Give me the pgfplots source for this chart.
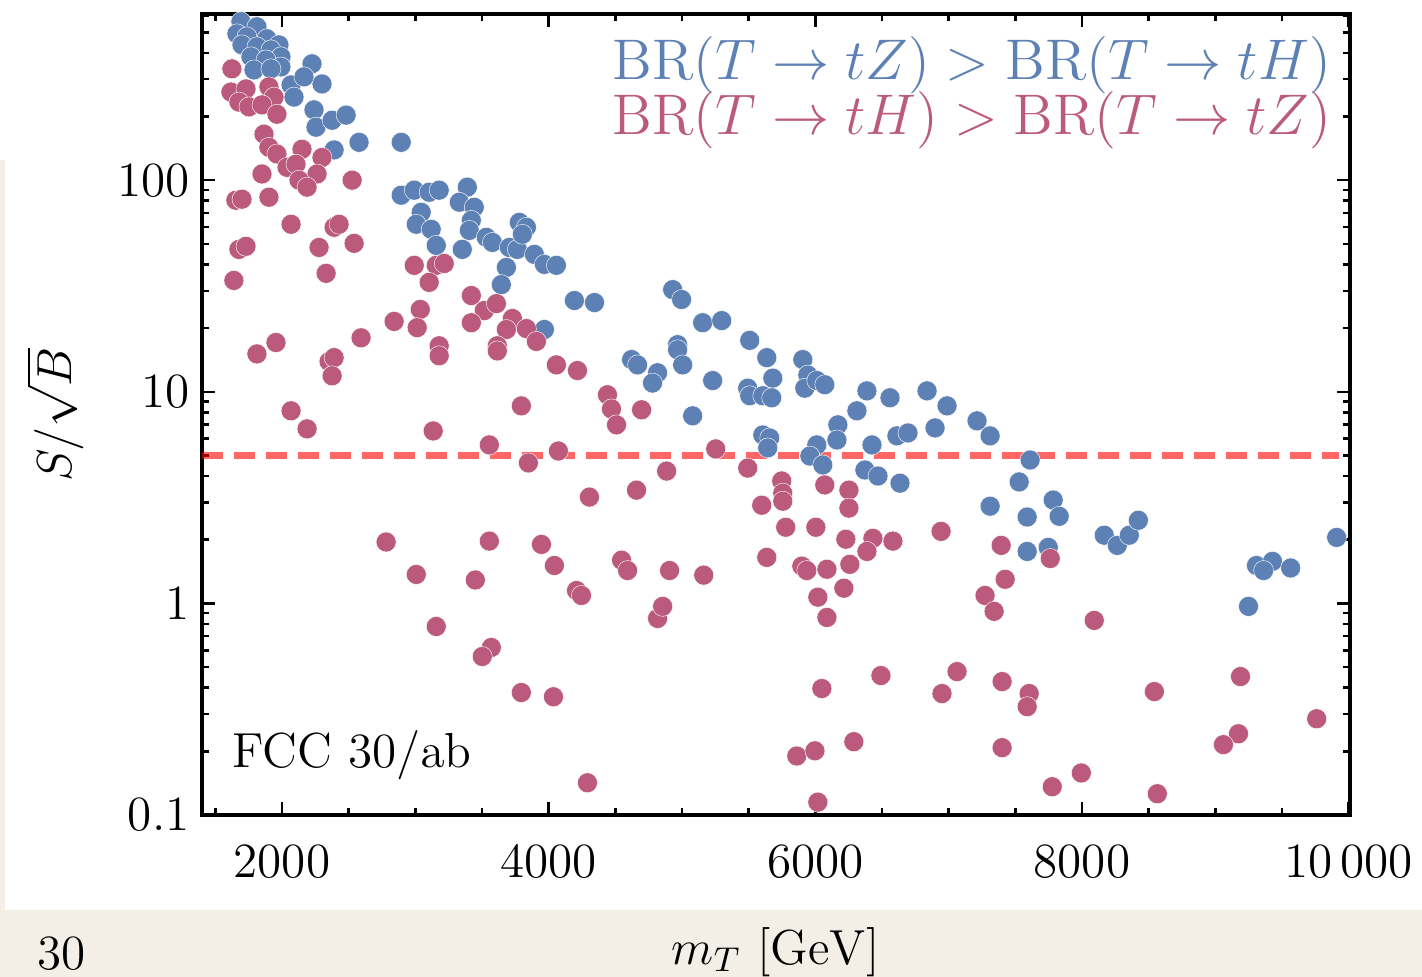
\RequirePackage{fix-cm}
\documentclass[border=0pt]{standalone}
\usepackage{pgfplots}
\pgfplotsset{compat=1.18}
\definecolor{mblue}{RGB}{94,129,181}
\definecolor{mred}{RGB}{187,90,125}
\definecolor{beige}{RGB}{243,239,231}
\begin{document}
\begin{tikzpicture}[font=\fontsize{14}{17}\selectfont]
\fill[white] (-20.2mm,-16.2mm) rectangle (122mm,81.5mm);
\fill[beige] (-20.2mm,-16.2mm) rectangle (122mm,-9.5mm);
\fill[beige] (-20.2mm,-9.5mm) rectangle (-19.7mm,65.5mm);
\node[anchor=center] at (-14mm,-13.9mm) {30};
\begin{axis}[
  at={(0,0)}, anchor=south west,
  scale only axis, width=114.8mm, height=80.1mm,
  xmin=1400, xmax=10010, ymin=0.1, ymax=610,
  ymode=log,
  scaled x ticks=false,
  axis line style={line width=0.9pt},
  tick align=inside,
  major tick length=1.3mm, minor tick length=0.7mm,
  every tick/.style={black, line width=0.7pt},
  xtick={2000,4000,6000,8000,10000},
  xticklabels={2000,4000,6000,8000,10\,000},
  minor xtick={1500,2500,3000,3500,4500,5000,5500,6500,7000,7500,8500,9000,9500},
  ytick={0.1,1,10,100},
  yticklabels={0.1,1,10,100},
  minor ytick={0.2,0.3,0.4,0.5,0.6,0.7,0.8,0.9,2,3,4,5,6,7,8,9,20,30,40,50,60,70,80,90,200,300,400,500,600},
  xticklabel style={yshift=-1.7mm},
  xlabel={$m_T\ [\mathrm{GeV}]$},
  xlabel style={at={(axis description cs:0.5,0)}, anchor=center, yshift=-13.7mm},
  ylabel={$S/\sqrt{B}$},
  ylabel style={at={([xshift=-14.7mm]axis description cs:0,0.5)}, anchor=center},
]
\addplot[only marks, mark=*, mark size=1.0mm, mark options={fill=mblue, draw=white, line width=0.12pt}] table {
x y
1624 626
1692 561
1812 531
1662 492
1737 476
1887 466
1977 436
1700 436
1812 427
1917 413
1992 383
1767 383
1880 370
1992 343
1790 332
1917 336
2225 355
2300 285
2068 282
2165 308
2090 247
2240 215
2255 178
2376 192
2481 203
2578 151
2894 151
2391 139
2894 84.9
2992 89.7
3104 87.7
3179 89.7
3390 92.7
3330 78.7
3442 74.5
3044 70.5
3007 61.9
3119 58.6
3420 64.6
3405 57.9
3157 49.2
3352 47.1
3532 53.7
3578 50.8
3705 48.1
3765 47.1
3780 63.2
3833 59.9
3803 55.5
3893 44.6
3968 40.0
4058 39.6
3683 38.7
3645 32.1
4193 27.0
4344 26.4
3968 19.7
4930 30.4
4997 27.3
5155 21.2
5298 21.7
4967 16.7
4967 15.8
5005 13.4
4622 14.2
4667 13.4
4817 12.3
4779 11.0
5230 11.3
5080 7.70
5508 17.5
5636 14.5
5681 11.6
5493 10.4
5508 9.58
5606 9.58
5673 9.37
5906 14.2
5944 12.0
5921 10.4
6011 11.3
6071 10.8
5606 6.25
5658 6.05
5643 5.43
6011 5.61
5959 4.97
6056 4.51
6169 6.98
6162 5.92
6312 8.13
6387 10.1
6560 9.37
6425 5.61
6612 6.19
6695 6.39
6372 4.27
6470 4.00
6635 3.70
6838 10.1
6988 8.58
6898 6.75
7213 7.29
7311 6.19
7611 4.76
7529 3.75
7311 2.88
7589 2.56
7784 3.08
7829 2.58
7589 1.76
7747 1.84
8167 2.10
8265 1.88
8355 2.10
8423 2.47
9910 2.05
9309 1.51
9429 1.58
9362 1.43
9565 1.47
9249 0.968
};
\addplot[only marks, mark=*, mark size=1.0mm, mark options={fill=mred, draw=white, line width=0.12pt}] table {
x y
1624 336
1617 261
1730 270
1677 234
1752 222
1902 276
1940 247
1850 227
1962 205
1865 165
1902 143
1962 133
2150 140
2300 128
2038 115
2105 119
1850 107
2263 107
2128 100
2188 92.7
2526 100
1654 80.4
1700 81.3
1902 83.1
2068 61.9
2391 59.9
2428 61.9
2278 48.1
2541 50.3
1677 47.1
1730 48.7
2331 36.3
1639 33.6
2992 39.6
3157 39.6
3217 40.4
3104 32.9
3420 28.5
3517 24.2
3608 26.1
3037 24.5
2841 21.5
3014 20.1
3420 21.2
3728 22.2
3683 19.7
3833 19.9
3908 17.3
1812 15.1
1955 17.1
2353 13.9
2391 14.5
2376 11.9
2593 18.0
3179 16.5
3179 14.8
3615 16.5
3615 15.6
4058 13.4
4216 12.6
2068 8.13
2188 6.68
3134 6.53
3795 8.58
3555 5.61
4073 5.25
3848 4.61
4441 9.68
4471 8.30
4509 6.98
4697 8.22
5253 5.37
4885 4.22
4659 3.43
4306 3.18
5493 4.36
5748 3.79
5756 3.32
5756 3.04
5598 2.91
6071 3.63
6252 3.43
6252 2.82
5778 2.29
6004 2.29
6229 2.01
6432 2.03
6387 1.76
6582 1.97
5636 1.65
5899 1.50
5936 1.43
6087 1.45
6259 1.53
6214 1.18
6019 1.07
6087 0.858
6943 2.19
7394 1.88
7424 1.30
7273 1.09
7341 0.917
7762 1.63
8092 0.831
2781 1.95
3555 1.97
3946 1.90
3007 1.37
3450 1.29
4043 1.51
4209 1.15
4246 1.09
4547 1.60
4592 1.43
4907 1.43
5163 1.36
4817 0.849
4855 0.968
3157 0.778
3570 0.619
3502 0.561
3795 0.379
4036 0.362
4291 0.142
6049 0.396
6492 0.456
7063 0.476
6950 0.375
7401 0.427
7604 0.375
7589 0.325
7401 0.208
6289 0.222
5861 0.190
5997 0.201
6019 0.115
6387 0.0937
8543 0.383
9189 0.451
9174 0.242
9061 0.215
9760 0.285
7777 0.136
7995 0.158
8565 0.126
};
\addplot[red, opacity=0.6, line width=2pt, dash pattern=on 2.1mm off 1.1mm] coordinates {(1400,5) (9930,5)};
\node[anchor=east, inner sep=0pt, text=mblue, font=\fontsize{16.3}{20}\selectfont] at (rel axis cs:0.984,0.936) {$\mathrm{BR}(T\to tZ)>\mathrm{BR}(T\to tH)$};
\node[anchor=east, inner sep=0pt, text=mred, font=\fontsize{16.3}{20}\selectfont] at (rel axis cs:0.984,0.868) {$\mathrm{BR}(T\to tH)>\mathrm{BR}(T\to tZ)$};
\node[anchor=west, inner sep=0pt] at (rel axis cs:0.026,0.075) {FCC $30/\mathrm{ab}$};
\end{axis}
\pgfresetboundingbox
\useasboundingbox (-20.2mm,-16.2mm) rectangle (122mm,81.5mm);
\end{tikzpicture}
\end{document}
